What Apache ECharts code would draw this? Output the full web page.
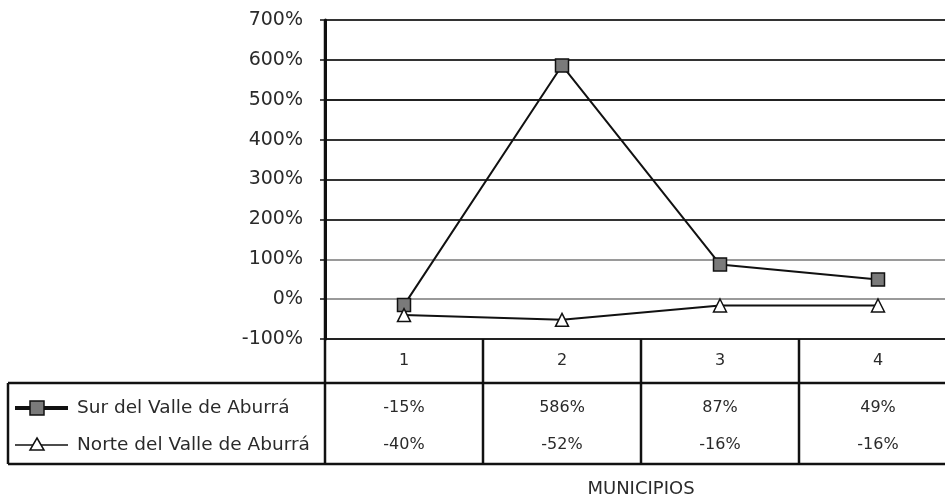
<!DOCTYPE html>
<html>
<head>
<meta charset="utf-8">
<script src="https://cdn.jsdelivr.net/npm/echarts@6/dist/echarts.min.js"></script>
<style>html,body{margin:0;padding:0;background:#fff}#c{width:945px;height:499px}</style>
</head>
<body>
<div id="c"></div>
<script>
const categories = ['1', '2', '3', '4'];
const seriesNames = ['Sur del Valle de Aburrá', 'Norte del Valle de Aburrá'];
const surValues = [-15, 586, 87, 49];
const norteValues = [-40, -52, -16, -16];
const yMin = -100, yMax = 700, yStep = 100;
const xAxisTitle = 'MUNICIPIOS';

const G = { left: 325, top: 20, width: 632, height: 319 };
const tableTop = 383, tableBottom = 464, tableLeft = 8;
const rowY = [408, 445];
const font = '"DejaVu Sans", Verdana, sans-serif';

const chart = echarts.init(document.getElementById('c'));
const splitColors = ['#222', '#9a9a9a', '#9a9a9a', '#333', '#333', '#333', '#222', '#333', '#333'];

const option = {
  animation: false,
  backgroundColor: '#fff',
  textStyle: { fontFamily: font },
  grid: { left: G.left, top: G.top, width: G.width, height: G.height, outerBoundsMode: 'none', containLabel: false },
  xAxis: {
    type: 'category', data: categories, position: 'bottom',
    axisLine: { show: false }, axisTick: { show: false },
    axisLabel: { fontSize: 16, color: '#2a2a2a', margin: 14, fontFamily: font }
  },
  yAxis: {
    type: 'value', min: yMin, max: yMax, interval: yStep,
    axisLine: { show: true, lineStyle: { color: '#111', width: 3 } },
    axisTick: { show: true, length: 5, lineStyle: { color: '#111', width: 1.5 } },
    axisLabel: { fontSize: 19, color: '#2a2a2a', margin: 22, fontFamily: font, formatter: v => v + '%' },
    splitLine: { show: true, lineStyle: { color: splitColors, width: 2 } }
  },
  series: [
    {
      name: seriesNames[0], type: 'line', data: surValues,
      symbol: 'rect', symbolSize: 13,
      lineStyle: { color: '#111', width: 2 },
      itemStyle: { color: '#7a7a7a', borderColor: '#111', borderWidth: 1.5 }
    },
    {
      name: seriesNames[1], type: 'line', data: norteValues,
      symbol: 'triangle', symbolSize: 13,
      lineStyle: { color: '#111', width: 2 },
      itemStyle: { color: '#fff', borderColor: '#111', borderWidth: 1.5 }
    }
  ]
};
chart.setOption(option);

// table graphics
const right = G.left + G.width;
const bw = G.width / categories.length;
const lineStyle = { stroke: '#111', lineWidth: 2.5 };
const gfx = [];
gfx.push({ type: 'line', shape: { x1: G.left, y1: G.top, x2: G.left, y2: tableBottom }, style: lineStyle, z: 100 });
gfx.push({ type: 'line', shape: { x1: tableLeft, y1: tableTop, x2: right, y2: tableTop }, style: lineStyle, z: 100 });
gfx.push({ type: 'line', shape: { x1: tableLeft, y1: tableBottom, x2: right, y2: tableBottom }, style: lineStyle, z: 100 });
gfx.push({ type: 'line', shape: { x1: tableLeft, y1: tableTop, x2: tableLeft, y2: tableBottom }, style: lineStyle, z: 100 });
for (let i = 1; i < categories.length; i++) {
  const x = G.left + i * bw;
  gfx.push({ type: 'line', shape: { x1: x, y1: G.top + G.height, x2: x, y2: tableBottom }, style: lineStyle, z: 100 });
}
[surValues, norteValues].forEach((vals, r) => {
  vals.forEach((v, i) => {
    const cx = chart.convertToPixel({ xAxisIndex: 0 }, categories[i]);
    gfx.push({ type: 'text', x: cx, y: rowY[r], style: { text: v + '%', font: '16px ' + font, fill: '#2a2a2a', align: 'center', verticalAlign: 'middle' }, z: 100 });
  });
});
// legend inside table
const legX1 = 15, legX2 = 68, legSym = 37;
gfx.push({ type: 'line', shape: { x1: legX1, y1: rowY[0], x2: legX2, y2: rowY[0] }, style: { stroke: '#111', lineWidth: 4 }, z: 100 });
gfx.push({ type: 'rect', shape: { x: legSym - 7, y: rowY[0] - 7, width: 14, height: 14 }, style: { fill: '#7a7a7a', stroke: '#111', lineWidth: 1.5 }, z: 101 });
gfx.push({ type: 'line', shape: { x1: legX1, y1: rowY[1], x2: legX2, y2: rowY[1] }, style: { stroke: '#111', lineWidth: 1.5 }, z: 100 });
gfx.push({ type: 'polygon', shape: { points: [[legSym, rowY[1] - 7], [legSym + 7, rowY[1] + 5], [legSym - 7, rowY[1] + 5]] }, style: { fill: '#fff', stroke: '#111', lineWidth: 1.5 }, z: 101 });
seriesNames.forEach((n, r) => {
  gfx.push({ type: 'text', x: 77, y: rowY[r], style: { text: n, font: '18.5px ' + font, fill: '#2a2a2a', align: 'left', verticalAlign: 'middle' }, z: 100 });
});
gfx.push({ type: 'text', x: G.left + 2 * bw, y: 489, style: { text: xAxisTitle, font: '18px ' + font, fill: '#2a2a2a', align: 'center', verticalAlign: 'middle' }, z: 100 });
chart.setOption({ graphic: gfx });
</script>
</body>
</html>
